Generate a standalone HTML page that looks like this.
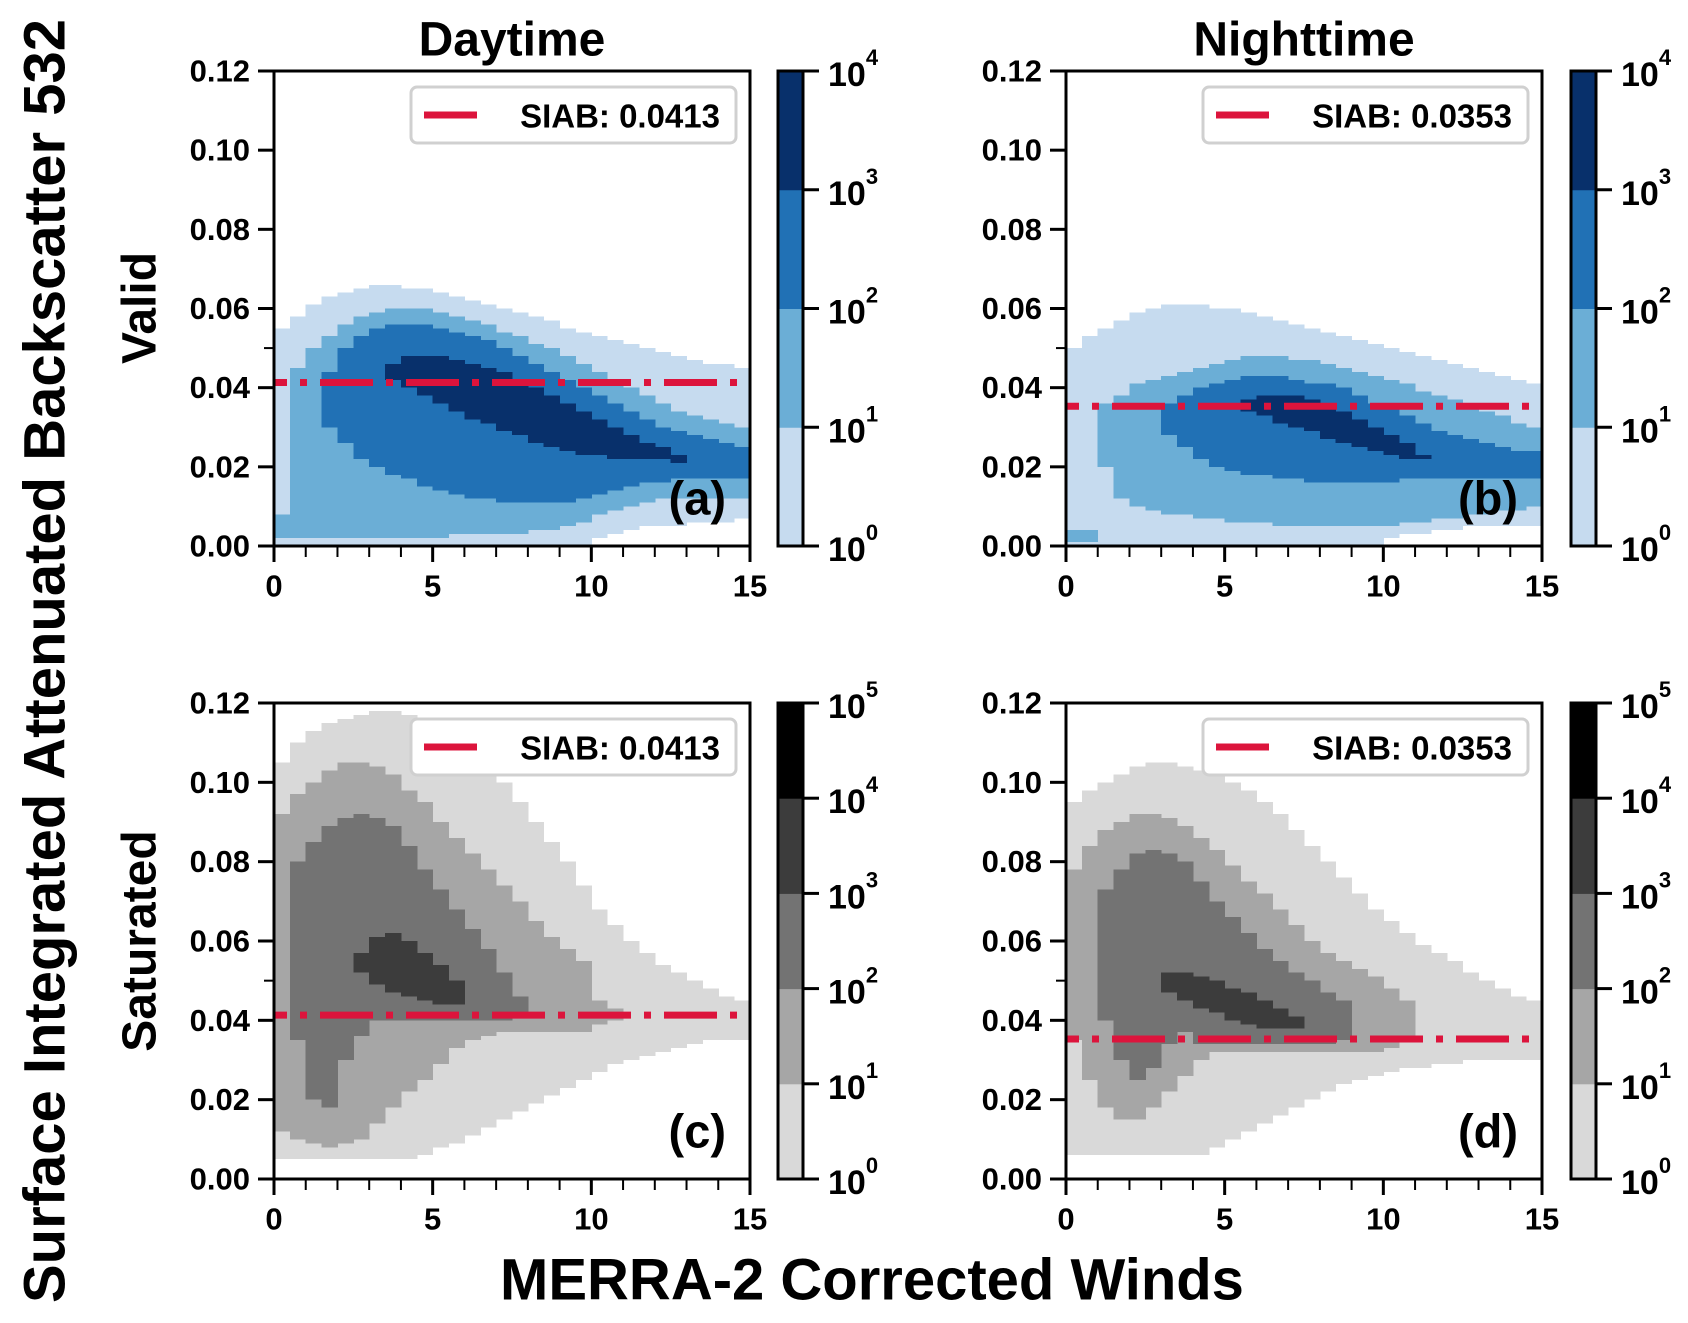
<!DOCTYPE html>
<html><head><meta charset="utf-8"><style>
html,body{margin:0;padding:0;background:#fff;}
svg{display:block;font-family:"Liberation Sans",Arial,sans-serif;font-weight:bold;}
</style></head><body>
<svg id="fig" width="1688" height="1323" viewBox="0 0 1688 1323" xmlns="http://www.w3.org/2000/svg">
<text x="45" y="661" transform="rotate(-90 45 661)" text-anchor="middle" dominant-baseline="central" font-size="58">Surface Integrated Attenuated Backscatter 532</text>
<text x="872" y="1280" text-anchor="middle" dominant-baseline="central" font-size="58">MERRA-2 Corrected Winds</text>
<text x="512" y="40" text-anchor="middle" dominant-baseline="central" font-size="48">Daytime</text>
<text x="1304" y="40" text-anchor="middle" dominant-baseline="central" font-size="48">Nighttime</text>
<text x="140" y="308" transform="rotate(-90 140 308)" text-anchor="middle" dominant-baseline="central" font-size="48">Valid</text>
<text x="140" y="941" transform="rotate(-90 140 941)" text-anchor="middle" dominant-baseline="central" font-size="48">Saturated</text>
</svg>
<script>
// ---- data (values in thousandths of SIAB; columns of 0.5 m/s wind, centers 0.25..14.75) ----
const windEdges = [0,0.5,1,1.5,2,2.5,3,3.5,4,4.5,5,5.5,6,6.5,7,7.5,8,8.5,9,9.5,10,10.5,11,11.5,12,12.5,13,13.5,14,14.5,15];
const xTicks = [0,5,10,15];
const yTicks = [0,0.02,0.04,0.06,0.08,0.10,0.12];
const yTickLabels = ["0.00","0.02","0.04","0.06","0.08","0.10","0.12"];
const siabValues = [0.0413,0.0353,0.0413,0.0353];
const panelLetters = ["(a)","(b)","(c)","(d)"];
const blueColors = ["#c6dbef","#6baed6","#2171b5","#08306b"];
const grayColors = ["#d9d9d9","#a6a6a6","#737373","#3c3c3c","#000000"];

const A1t=[55,58,61,63,64,65,66,66,65,65,64,63,62,61,60,59,58,57,55,54,53,52,51,50,49,48,47,46,46,45];
const A1b=[0,0,0,0,0,0,0,0,0,0,0,0,0,0,0,0,0,0,0,0,2,3,4,5,5,5,6,6,6,7];
const A2t=[8,45,50,53,56,58,59,60,60,60,59,58,57,56,54,53,51,50,48,46,44,42,40,38,36,34,33,32,31,30];
const A2b=[2,2,2,2,2,2,2,2,2,2,2,3,3,3,3,3,4,4,5,6,8,9,10,11,12,12,12,12,12,12];
const A3t=[0,0,0,44,50,53,55,56,56,56,55,54,53,52,50,48,46,44,42,40,38,36,34,32,30,29,28,27,26,25];
const A3b=[0,0,0,30,26,22,20,18,17,15,14,13,12,12,11,11,11,11,11,12,13,14,15,16,16,17,17,17,17,17];
const A4t=[0,0,0,0,0,0,0,46,48,48,48,47,46,45,44,42,40,38,36,34,32,30,28,26,25,23,0,0,0,0];
const A4b=[0,0,0,0,0,0,0,42,40,38,36,34,32,31,29,28,26,25,24,23,23,22,22,22,22,21,0,0,0,0];

const B1t=[50,53,55,57,59,60,61,61,61,60,60,59,58,57,56,55,54,53,52,51,50,49,48,47,46,45,44,43,42,41];
const B1b=[0,0,0,0,0,0,0,0,0,0,0,0,0,0,0,0,0,0,0,0,2,3,3,4,4,5,5,5,5,5];
const B2t=[4,4,36,38,41,42,43,44,45,46,47,48,48,48,47,47,46,45,44,43,42,41,39,38,37,35,34,33,31,30];
const B2b=[1,1,20,12,10,9,8,8,7,7,6,6,6,5,5,5,5,5,5,5,5,6,6,7,7,8,8,9,9,10];
const B3t=[0,0,0,0,0,0,36,38,40,41,42,43,43,43,42,41,41,40,38,36,35,33,31,29,28,27,26,25,24,24];
const B3b=[0,0,0,0,0,0,28,25,22,20,19,18,18,17,17,16,16,16,16,16,16,17,17,17,17,17,17,17,17,17];
const B4t=[0,0,0,0,0,0,0,0,0,0,0,37,38,38,38,37,36,34,32,30,28,26,23,0,0,0,0,0,0,0];
const B4b=[0,0,0,0,0,0,0,0,0,0,0,34,33,31,30,29,27,26,25,24,23,22,22,0,0,0,0,0,0,0];

const C1t=[105,110,113,115,116,117,118,118,117,116,114,112,108,104,100,95,90,85,80,74,68,64,60,57,54,52,50,48,46,45];
const C1b=[5,5,5,5,5,5,5,5,5,6,8,9,11,13,15,17,19,21,23,25,27,29,30,31,32,33,34,35,35,35];
const C2t=[92,97,100,103,105,105,104,102,98,95,90,86,82,78,74,70,65,61,58,55,45,43,0,0,0,0,0,0,0,0];
const C2b=[12,10,9,8,9,10,14,18,22,25,29,33,35,36,37,37,37,37,37,37,39,40,0,0,0,0,0,0,0,0];
const C3t=[0,80,85,89,91,92,91,89,84,78,73,68,63,58,52,46,0,0,0,0,0,0,0,0,0,0,0,0,0,0];
const C3b=[0,35,20,18,30,36,40,40,40,40,40,40,40,40,40,41,0,0,0,0,0,0,0,0,0,0,0,0,0,0];
const C4t=[0,0,0,0,0,57,61,62,60,57,54,50,0,0,0,0,0,0,0,0,0,0,0,0,0,0,0,0,0,0];
const C4b=[0,0,0,0,0,52,49,47,46,45,44,44,0,0,0,0,0,0,0,0,0,0,0,0,0,0,0,0,0,0];

const D1t=[95,98,100,102,104,105,105,104,103,102,100,98,95,92,88,84,80,76,72,68,65,62,59,57,55,52,50,48,46,45];
const D1b=[6,6,6,6,6,6,6,6,6,8,10,12,14,16,18,20,22,24,25,26,27,28,28,29,29,30,30,30,30,30];
const D2t=[78,84,88,90,92,92,91,89,86,83,79,75,72,68,64,60,57,55,53,51,48,45,0,0,0,0,0,0,0,0];
const D2b=[35,25,18,15,15,18,22,26,30,32,32,32,32,32,32,32,32,32,32,32,33,35,0,0,0,0,0,0,0,0];
const D3t=[0,0,73,78,82,83,82,80,75,70,66,62,58,55,52,50,47,45,0,0,0,0,0,0,0,0,0,0,0,0];
const D3b=[0,0,40,30,25,28,34,37,34,34,34,34,34,34,34,34,34,35,0,0,0,0,0,0,0,0,0,0,0,0];
const D4t=[0,0,0,0,0,0,52,52,51,50,48,47,45,43,41,0,0,0,0,0,0,0,0,0,0,0,0,0,0,0];
const D4b=[0,0,0,0,0,0,47,45,43,42,40,39,38,38,38,0,0,0,0,0,0,0,0,0,0,0,0,0,0,0];

const NS="http://www.w3.org/2000/svg";
const svg=document.getElementById('fig');
function mk(tag,attrs,parent){const e=document.createElementNS(NS,tag);for(const k in attrs)e.setAttribute(k,attrs[k]);(parent||svg).appendChild(e);return e;}

const panels=[
 {x0:274,x1:750,y0:71,y1:546,cb:778,levels:[[A1t,A1b],[A2t,A2b],[A3t,A3b],[A4t,A4b]],colors:blueColors,cbn:4,name:'panel-a-daytime-valid'},
 {x0:1066,x1:1542,y0:71,y1:546,cb:1571,levels:[[B1t,B1b],[B2t,B2b],[B3t,B3b],[B4t,B4b]],colors:blueColors,cbn:4,name:'panel-b-nighttime-valid'},
 {x0:274,x1:750,y0:703,y1:1179,cb:778,levels:[[C1t,C1b],[C2t,C2b],[C3t,C3b],[C4t,C4b]],colors:grayColors,cbn:5,name:'panel-c-daytime-saturated'},
 {x0:1066,x1:1542,y0:703,y1:1179,cb:1571,levels:[[D1t,D1b],[D2t,D2b],[D3t,D3b],[D4t,D4b]],colors:grayColors,cbn:5,name:'panel-d-nighttime-saturated'}
];

panels.forEach((p,pi)=>{
  const g=mk('g',{});
  
  
  const xs=v=>p.x0+(v-0)/(15-0)*(p.x1-p.x0);
  const ys=v=>p.y1-(v-0)/(0.12-0)*(p.y1-p.y0);
  const hm=mk('g',{'shape-rendering':'crispEdges'},g);
  
  
  p.levels.forEach((lv,li)=>{
    const tops=lv[0],bots=lv[1];
    for(let c=0;c<tops.length;c++){
      if(tops[c]<=bots[c])continue;
      const xa=xs(windEdges[c]),xb=xs(windEdges[c+1]);
      const ya=ys(tops[c]/1000),yb=ys(bots[c]/1000);
      const r=mk('rect',{x:xa,y:ya,width:xb-xa+0.5,height:yb-ya,fill:p.colors[li]},hm);
      
      
    }
  });
  const yl=ys(siabValues[pi]);
  const ln=mk('line',{x1:xs(0),x2:xs(14.75),y1:yl,y2:yl,stroke:'#dc143c','stroke-width':7,'stroke-dasharray':'53 13 7 13','stroke-dashoffset':'40'},g);
  
  
  const fr=mk('rect',{x:p.x0,y:p.y0,width:p.x1-p.x0,height:p.y1-p.y0,fill:'none',stroke:'#000','stroke-width':3},g);
  
  
  yTicks.forEach((t,i)=>{
    const y=ys(t);
    mk('line',{x1:p.x0-16,x2:p.x0,y1:y,y2:y,stroke:'#000','stroke-width':3},g);
    const tx=mk('text',{x:p.x0-24,y:y,'text-anchor':'end','dominant-baseline':'central','font-size':31},g);
    tx.textContent=yTickLabels[i];
    
    
  });
  mk('line',{x1:p.x0-10,x2:p.x0,y1:ys(0.05),y2:ys(0.05),stroke:'#000','stroke-width':2},g);
  for(let v=0;v<=15;v++){
    const x=xs(v);const major=(v%5===0);
    mk('line',{x1:x,x2:x,y1:p.y1,y2:p.y1+(major?16:11),stroke:'#000','stroke-width':major?3:2},g);
  }
  xTicks.forEach(t=>{
    const tx=mk('text',{x:xs(t),y:p.y1+40,'text-anchor':'middle','dominant-baseline':'central','font-size':31},g);
    tx.textContent=String(t);
    
    
  });
  const lg=mk('g',{},g);
  
  
  mk('rect',{x:p.x0+137,y:p.y0+16,width:325,height:56,rx:6,fill:'#fff',stroke:'#d0d0d0','stroke-width':3},lg);
  mk('line',{x1:p.x0+150,x2:p.x0+216,y1:p.y0+44,y2:p.y0+44,stroke:'#dc143c','stroke-width':7,'stroke-dasharray':'53 13 7 13'},lg);
  const lt=mk('text',{x:p.x0+446,y:p.y0+45,'text-anchor':'end','dominant-baseline':'central','font-size':33},lg);
  lt.textContent='SIAB: '+siabValues[pi].toFixed(4);
  
  
  const pl=mk('text',{x:p.x1-24,y:p.y1-48,'text-anchor':'end','dominant-baseline':'central','font-size':47},g);
  pl.textContent=panelLetters[pi];
  
  
  const cg=mk('g',{},g);
  
  
  const bh=(p.y1-p.y0)/p.cbn;
  for(let k=0;k<p.cbn;k++){
    mk('rect',{x:p.cb,y:p.y1-(k+1)*bh,width:25,height:bh+0.5,fill:p.colors[k]},cg);
  }
  mk('rect',{x:p.cb,y:p.y0,width:25,height:p.y1-p.y0,fill:'none',stroke:'#000','stroke-width':3},cg);
  for(let k=0;k<=p.cbn;k++){
    const y=p.y1-k*bh;
    mk('line',{x1:p.cb+25,x2:p.cb+41,y1:y,y2:y,stroke:'#000','stroke-width':3},cg);
    const t=mk('text',{x:p.cb+50,y:y+15,'font-size':34},cg);
    t.textContent='10';
    const s=mk('tspan',{dy:-21,'font-size':22},t);
    s.textContent=String(k);
    
    
  }
});
</script>
</body></html>
